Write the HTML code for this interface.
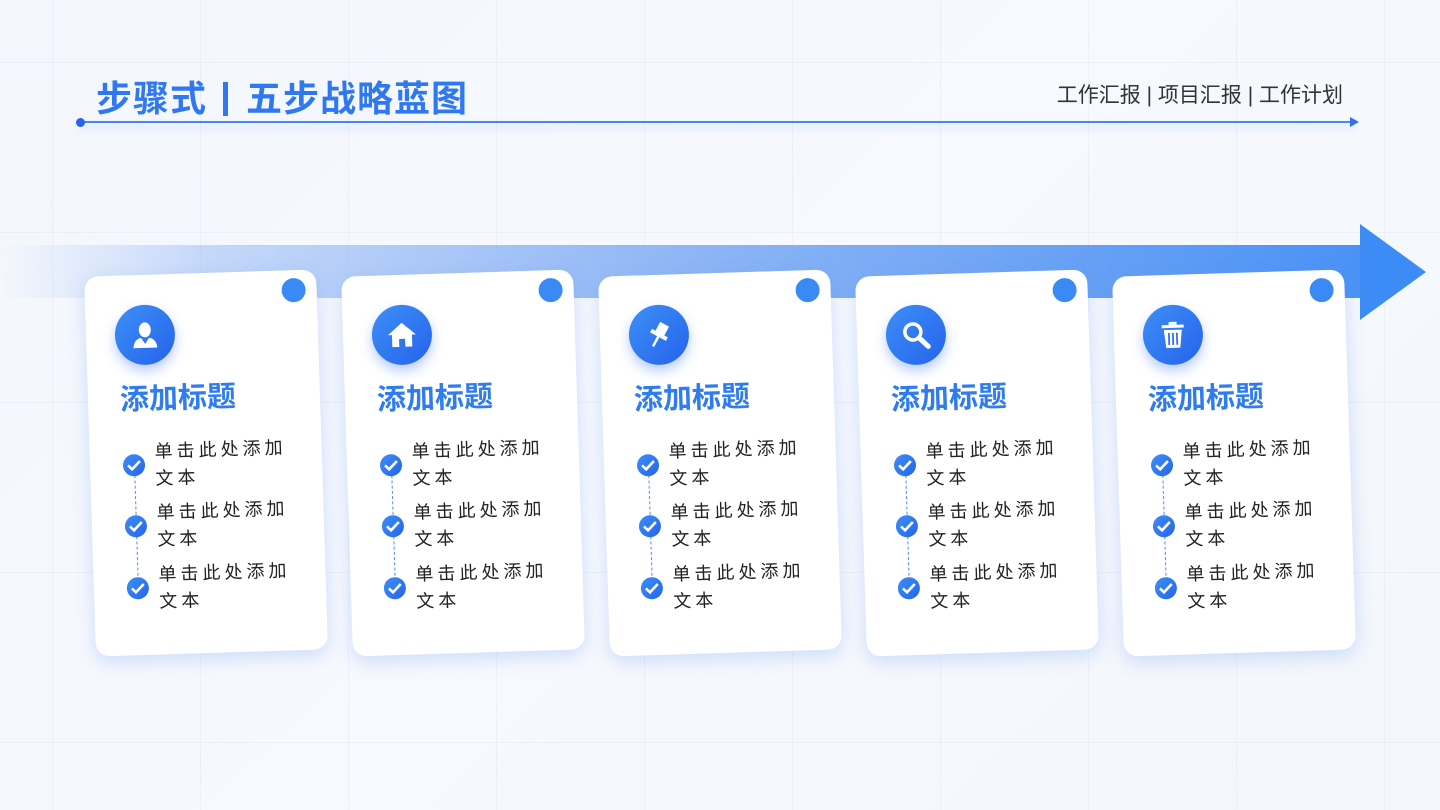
<!DOCTYPE html>
<html><head><meta charset="utf-8">
<style>
*{margin:0;padding:0;box-sizing:border-box}
body{width:1440px;height:810px;overflow:hidden;position:relative;font-family:"Liberation Sans","Noto Sans CJK SC",sans-serif;
background:linear-gradient(135deg,#f3f6fc 0%,#f7f9fe 50%,#f3f6fb 100%);}
.grid{position:absolute;inset:0;background-image:linear-gradient(to right,rgba(200,215,240,.25) 1px,transparent 1px),linear-gradient(to bottom,rgba(200,215,240,.25) 1px,transparent 1px);background-size:148px 170px;background-position:52px 62px}
.title{position:absolute;left:96px;top:70px;font-size:36px;font-weight:bold;color:#2f78f0;letter-spacing:1px;white-space:nowrap}
.title .bar{display:inline-block;width:5px;height:34px;background:#2f78f0;vertical-align:-5px;margin:0 18px 0 16px}
.sub{position:absolute;right:97px;top:79px;font-size:21px;color:#333}
.hline{position:absolute;left:80px;top:121px;width:1276px;height:2px;background:#4a86f2;box-shadow:0 5px 8px rgba(60,120,240,.25)}
.hdot{position:absolute;left:76px;top:118px;width:9px;height:9px;border-radius:50%;background:#2563eb}
.harr{position:absolute;left:1350px;top:117px;width:0;height:0;border-left:9px solid #2f6ff0;border-top:5px solid transparent;border-bottom:5px solid transparent}
.band{position:absolute;left:0;top:245px;width:1362px;height:53px;background:linear-gradient(to right,rgba(150,185,245,0) 0%,rgba(150,185,245,.5) 15%,#8fb6f5 50%,#4b92f5 100%)}
.head{position:absolute;left:1360px;top:224px;width:0;height:0;border-left:66px solid #3d8cf5;border-top:48px solid transparent;border-bottom:48px solid transparent}
.card{position:absolute;top:273px;width:232px;height:380px;background:#fff;border-radius:14px;transform:rotate(-1.8deg);box-shadow:0 6px 18px rgba(80,140,240,.25)}
.dot{position:absolute;left:197px;top:8px;width:24px;height:24px;border-radius:50%;background:#3a8af5}
.icon{position:absolute;left:29px;top:30px;width:60px;height:60px;border-radius:50%;background:linear-gradient(135deg,#3d8ff6,#2563eb);box-shadow:0 6px 12px rgba(50,110,240,.35);display:flex;align-items:center;justify-content:center}
.ct{position:absolute;left:32px;top:101px;font-size:29px;font-weight:bold;color:#2f7cf0;white-space:nowrap}
.chk{position:absolute;left:33px;width:22px;height:22px;border-radius:50%;background:linear-gradient(135deg,#3d8ff6,#2563eb);display:flex;align-items:center;justify-content:center}
.txt{position:absolute;left:65px;font-size:18px;line-height:27px;letter-spacing:4px;color:#222;width:140px}
.dash{position:absolute;left:43.5px;width:0;border-left:1.5px dashed #4a8ff5}
</style></head><body>
<div class="grid"></div>
<div class="title">步骤式<span class="bar"></span>五步战略蓝图</div>
<div class="sub">工作汇报 | 项目汇报 | 工作计划</div>
<div class="hline"></div><div class="hdot"></div><div class="harr"></div>
<div class="band"></div><div class="head"></div>

<div class="card" style="left:90px">
 <div class="dot"></div>
 <div class="icon"><svg width="30" height="30" viewBox="0 0 30 30"><ellipse cx="15" cy="10" rx="6" ry="7.5" fill="#fff"/><path d="M3 28 Q4 19 11 18 L15 24 L19 18 Q26 19 27 28Z" fill="#fff"/></svg></div>
 <div class="ct">添加标题</div>
 <div class="dash" style="top:200px;height:50px"></div><div class="dash" style="top:261px;height:50px"></div>
 <div class="chk" style="top:179px"><svg width="14" height="12"><path d="M1 6 L5 10 L13 2" stroke="#fff" stroke-width="2.6" fill="none"/></svg></div>
 <div class="chk" style="top:240px"><svg width="14" height="12"><path d="M1 6 L5 10 L13 2" stroke="#fff" stroke-width="2.6" fill="none"/></svg></div>
 <div class="chk" style="top:302px"><svg width="14" height="12"><path d="M1 6 L5 10 L13 2" stroke="#fff" stroke-width="2.6" fill="none"/></svg></div>
 <div class="txt" style="top:164px">单击此处添加文本</div>
 <div class="txt" style="top:225px">单击此处添加文本</div>
 <div class="txt" style="top:287px">单击此处添加文本</div>
</div>

<div class="card" style="left:347px">
 <div class="dot"></div>
 <div class="icon"><svg width="32" height="30" viewBox="0 0 32 30"><path d="M16 3 L30 15 L26 15 L26 27 L19 27 L19 19 L13 19 L13 27 L6 27 L6 15 L2 15Z" fill="#fff"/></svg></div>
 <div class="ct">添加标题</div>
 <div class="dash" style="top:200px;height:50px"></div><div class="dash" style="top:261px;height:50px"></div>
 <div class="chk" style="top:179px"><svg width="14" height="12"><path d="M1 6 L5 10 L13 2" stroke="#fff" stroke-width="2.6" fill="none"/></svg></div>
 <div class="chk" style="top:240px"><svg width="14" height="12"><path d="M1 6 L5 10 L13 2" stroke="#fff" stroke-width="2.6" fill="none"/></svg></div>
 <div class="chk" style="top:302px"><svg width="14" height="12"><path d="M1 6 L5 10 L13 2" stroke="#fff" stroke-width="2.6" fill="none"/></svg></div>
 <div class="txt" style="top:164px">单击此处添加文本</div>
 <div class="txt" style="top:225px">单击此处添加文本</div>
 <div class="txt" style="top:287px">单击此处添加文本</div>
</div>

<div class="card" style="left:604px">
 <div class="dot"></div>
 <div class="icon"><svg width="30" height="30" viewBox="0 0 30 30"><g transform="rotate(30 15 15)"><rect x="10" y="3" width="10" height="11" fill="#fff"/><rect x="6" y="13" width="18" height="4" fill="#fff"/><rect x="14" y="17" width="2.5" height="11" fill="#fff"/></g></svg></div>
 <div class="ct">添加标题</div>
 <div class="dash" style="top:200px;height:50px"></div><div class="dash" style="top:261px;height:50px"></div>
 <div class="chk" style="top:179px"><svg width="14" height="12"><path d="M1 6 L5 10 L13 2" stroke="#fff" stroke-width="2.6" fill="none"/></svg></div>
 <div class="chk" style="top:240px"><svg width="14" height="12"><path d="M1 6 L5 10 L13 2" stroke="#fff" stroke-width="2.6" fill="none"/></svg></div>
 <div class="chk" style="top:302px"><svg width="14" height="12"><path d="M1 6 L5 10 L13 2" stroke="#fff" stroke-width="2.6" fill="none"/></svg></div>
 <div class="txt" style="top:164px">单击此处添加文本</div>
 <div class="txt" style="top:225px">单击此处添加文本</div>
 <div class="txt" style="top:287px">单击此处添加文本</div>
</div>

<div class="card" style="left:861px">
 <div class="dot"></div>
 <div class="icon"><svg width="30" height="30" viewBox="0 0 30 30"><circle cx="12" cy="12" r="8" stroke="#fff" stroke-width="3.5" fill="none"/><path d="M18 18 L27 27" stroke="#fff" stroke-width="5" stroke-linecap="round"/></svg></div>
 <div class="ct">添加标题</div>
 <div class="dash" style="top:200px;height:50px"></div><div class="dash" style="top:261px;height:50px"></div>
 <div class="chk" style="top:179px"><svg width="14" height="12"><path d="M1 6 L5 10 L13 2" stroke="#fff" stroke-width="2.6" fill="none"/></svg></div>
 <div class="chk" style="top:240px"><svg width="14" height="12"><path d="M1 6 L5 10 L13 2" stroke="#fff" stroke-width="2.6" fill="none"/></svg></div>
 <div class="chk" style="top:302px"><svg width="14" height="12"><path d="M1 6 L5 10 L13 2" stroke="#fff" stroke-width="2.6" fill="none"/></svg></div>
 <div class="txt" style="top:164px">单击此处添加文本</div>
 <div class="txt" style="top:225px">单击此处添加文本</div>
 <div class="txt" style="top:287px">单击此处添加文本</div>
</div>

<div class="card" style="left:1118px">
 <div class="dot"></div>
 <div class="icon"><svg width="30" height="30" viewBox="0 0 30 30"><rect x="4" y="5" width="22" height="3" fill="#fff"/><rect x="11" y="2" width="8" height="3" fill="#fff"/><path d="M6 10 H24 L22 28 H8Z" fill="#fff"/><path d="M11 13 V25 M15 13 V25 M19 13 V25" stroke="#2f70ee" stroke-width="1.8"/></svg></div>
 <div class="ct">添加标题</div>
 <div class="dash" style="top:200px;height:50px"></div><div class="dash" style="top:261px;height:50px"></div>
 <div class="chk" style="top:179px"><svg width="14" height="12"><path d="M1 6 L5 10 L13 2" stroke="#fff" stroke-width="2.6" fill="none"/></svg></div>
 <div class="chk" style="top:240px"><svg width="14" height="12"><path d="M1 6 L5 10 L13 2" stroke="#fff" stroke-width="2.6" fill="none"/></svg></div>
 <div class="chk" style="top:302px"><svg width="14" height="12"><path d="M1 6 L5 10 L13 2" stroke="#fff" stroke-width="2.6" fill="none"/></svg></div>
 <div class="txt" style="top:164px">单击此处添加文本</div>
 <div class="txt" style="top:225px">单击此处添加文本</div>
 <div class="txt" style="top:287px">单击此处添加文本</div>
</div>
</body></html>
